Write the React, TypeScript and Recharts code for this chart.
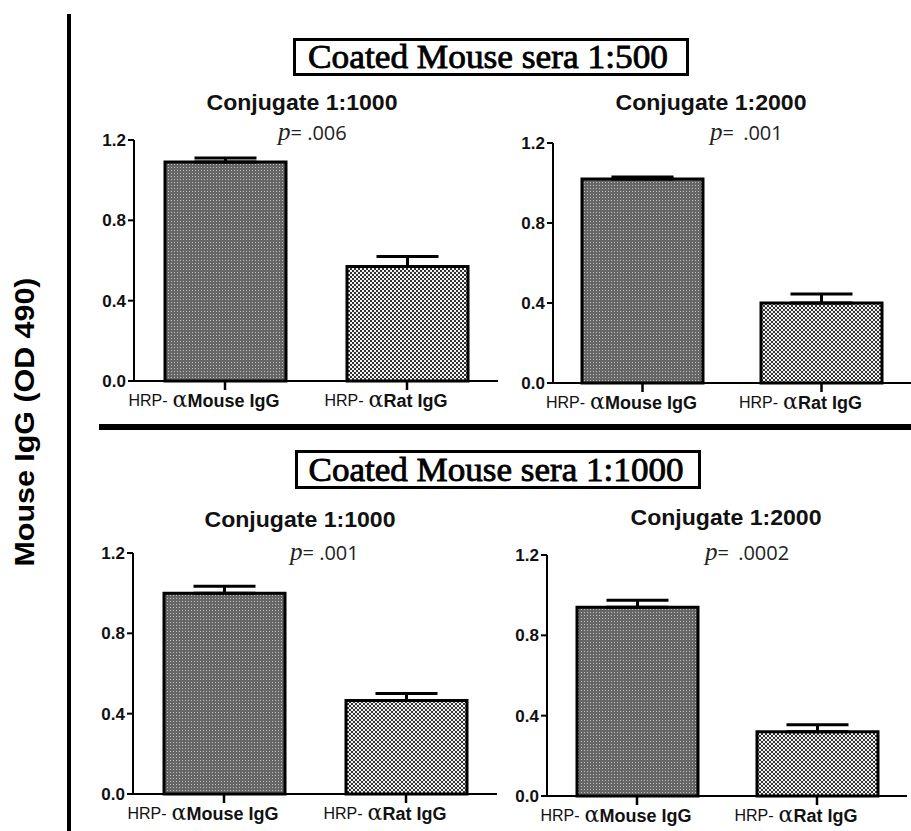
import React from "react"
import { BarChart, Bar, XAxis, YAxis, ErrorBar, Cell } from "recharts"

// values (OD 490)
const categories = ["Mouse IgG", "Rat IgG"]
const seraTitles = ["Coated Mouse sera 1:500", "Coated Mouse sera 1:1000"]
const conjugateLabels = ["Conjugate 1:1000", "Conjugate 1:2000", "Conjugate 1:1000", "Conjugate 1:2000"]
const pValues = [".006", ".001", ".001", ".0002"]
const mouseMeans = [1.09, 1.02, 1.0, 0.94]
const mouseErrors = [0.02, 0.01, 0.035, 0.035]
const ratMeans = [0.57, 0.4, 0.465, 0.32]
const ratErrors = [0.05, 0.045, 0.035, 0.035]
const yTicks = [0, 0.4, 0.8, 1.2]
const yLabel = "Mouse IgG (OD 490)"

// where each panel's plot area sits on the page
const panels = [
  { left: 134, top: 140, plotW: 364, plotH: 241, right: 10 },
  { left: 553, top: 143, plotW: 358, plotH: 240, right: 0 },
  { left: 133, top: 553, plotW: 364, plotH: 241, right: 10 },
  { left: 547, top: 555, plotW: 360, plotH: 241, right: 4 },
]
const conjPos = [
  { x: 302, y: 110 },
  { x: 711, y: 110 },
  { x: 300, y: 527 },
  { x: 726, y: 525 },
]
const pPos = [
  { x: 278, y: 140, gap: 0 },
  { x: 710, y: 140, gap: 4 },
  { x: 290, y: 560, gap: 0 },
  { x: 705, y: 560, gap: 4 },
]
const fills = ["url(#dotFill)", "url(#checkFill)"]

const SANS = "'Liberation Sans', Arial, sans-serif"
const SERIF = "'Liberation Serif', 'Times New Roman', serif"

const XTick = (props: any) => {
  const { x, y, payload } = props
  return (
    <text x={x - 21} y={y + 15} textAnchor="middle" fill="#111">
      <tspan fontFamily={SANS} fontSize={16} dy={-1}>HRP-</tspan>
      <tspan fontFamily="'DejaVu Serif', serif" fontSize={22} dx={5} dy={1}>α</tspan>
      <tspan fontFamily={SANS} fontSize={18} fontWeight="bold">{payload.value}</tspan>
    </text>
  )
}

function Panel({ idx }: { idx: number }) {
  const p = panels[idx]
  const data = categories.map((name, i) => ({
    name,
    value: i === 0 ? mouseMeans[idx] : ratMeans[idx],
    err: [0, i === 0 ? mouseErrors[idx] : ratErrors[idx]],
  }))
  const w = 60 + p.plotW + p.right
  const h = 10 + p.plotH + 40
  return (
    <div style={{ position: "absolute", left: p.left - 60, top: p.top - 10, width: w, height: h }}>
      <BarChart width={w} height={h} data={data} margin={{ top: 10, right: p.right, left: 0, bottom: 0 }}>
        <XAxis
          dataKey="name"
          height={40}
          interval={0}
          tickSize={9}
          tickMargin={2}
          axisLine={{ stroke: "#000", strokeWidth: 2 }}
          tickLine={{ stroke: "#000", strokeWidth: 2.5 }}
          tick={(props: any) => <XTick {...props} />}
        />
        <YAxis
          width={60}
          domain={[0, 1.2]}
          ticks={yTicks}
          tickSize={6}
          tickMargin={2}
          axisLine={{ stroke: "#000", strokeWidth: 2 }}
          tickLine={{ stroke: "#000", strokeWidth: 2 }}
          tick={{ fill: "#111", fontSize: 17, fontWeight: "bold", fontFamily: SANS }}
          tickFormatter={(v: number) => v.toFixed(1)}
        />
        <Bar dataKey="value" barSize={121} stroke="#000" strokeWidth={3} isAnimationActive={false}>
          {data.map((_, i) => (
            <Cell key={i} fill={fills[i]} />
          ))}
          <ErrorBar dataKey="err" direction="y" width={31} stroke="#000" strokeWidth={3} isAnimationActive={false} />
        </Bar>
      </BarChart>
    </div>
  )
}

export default function App() {
  return (
    <div
      style={{
        position: "absolute",
        left: 0,
        top: 0,
        width: 911,
        height: 831,
        overflow: "hidden",
        background: "#fff",
      }}
    >
      {panels.map((_, i) => (
        <Panel key={i} idx={i} />
      ))}

      <svg width={911} height={831} style={{ position: "absolute", left: 0, top: 0, pointerEvents: "none" }}>
        <defs>
          <pattern id="dotFill" width={3} height={3} patternUnits="userSpaceOnUse">
            <rect width={3} height={3} fill="#666" />
            <rect x={1} y={1} width={1} height={1} fill="#bdbdbd" />
          </pattern>
          <pattern id="checkFill" width={4} height={4} patternUnits="userSpaceOnUse">
            <rect width={4} height={4} fill="#333" />
            <rect x={0} y={0} width={2} height={2} fill="#f2f2f2" />
            <rect x={2} y={2} width={2} height={2} fill="#f2f2f2" />
          </pattern>
        </defs>

        {/* frame lines */}
        <rect x={67} y={14} width={4} height={817} fill="#000" />
        <rect x={99} y={424} width={812} height={6} fill="#000" />

        {/* y label */}
        <text
          x={34}
          y={422}
          transform="rotate(-90, 34, 422)"
          textAnchor="middle"
          fontFamily={SANS}
          fontWeight="bold"
          fontSize={27}
          textLength={289}
          lengthAdjust="spacingAndGlyphs"
          fill="#000"
        >
          {yLabel}
        </text>

        {/* boxed sera titles */}
        <rect x={294.5} y={39.5} width={393} height={35} fill="#fff" stroke="#000" strokeWidth={3} />
        <text x={488} y={68} textAnchor="middle" fontFamily={SERIF} fontSize={33} stroke="#000" strokeWidth={0.8}
          textLength={360} lengthAdjust="spacingAndGlyphs" fill="#000">
          {seraTitles[0]}
        </text>
        <rect x={296.5} y={451.5} width={403} height={36} fill="#fff" stroke="#000" strokeWidth={3} />
        <text x={496} y={481} textAnchor="middle" fontFamily={SERIF} fontSize={33} stroke="#000" strokeWidth={0.8}
          textLength={375} lengthAdjust="spacingAndGlyphs" fill="#000">
          {seraTitles[1]}
        </text>

        {conjugateLabels.map((t, i) => (
          <text key={t + i} x={conjPos[i].x} y={conjPos[i].y} textAnchor="middle" fontFamily={SANS} fontWeight="bold"
            fontSize={22} textLength={191} lengthAdjust="spacingAndGlyphs" fill="#111">
            {t}
          </text>
        ))}

        {pValues.map((v, i) => (
          <text key={v + i} x={pPos[i].x} y={pPos[i].y} fill="#222">
            <tspan fontFamily={SERIF} fontStyle="italic" fontSize={25}>p</tspan>
            <tspan fontFamily="'Open Sans', sans-serif" fontSize={20}>=</tspan>
            <tspan fontFamily="'Open Sans', sans-serif" fontSize={20} dx={pPos[i].gap}>{" " + v}</tspan>
          </text>
        ))}
      </svg>
    </div>
  )
}
